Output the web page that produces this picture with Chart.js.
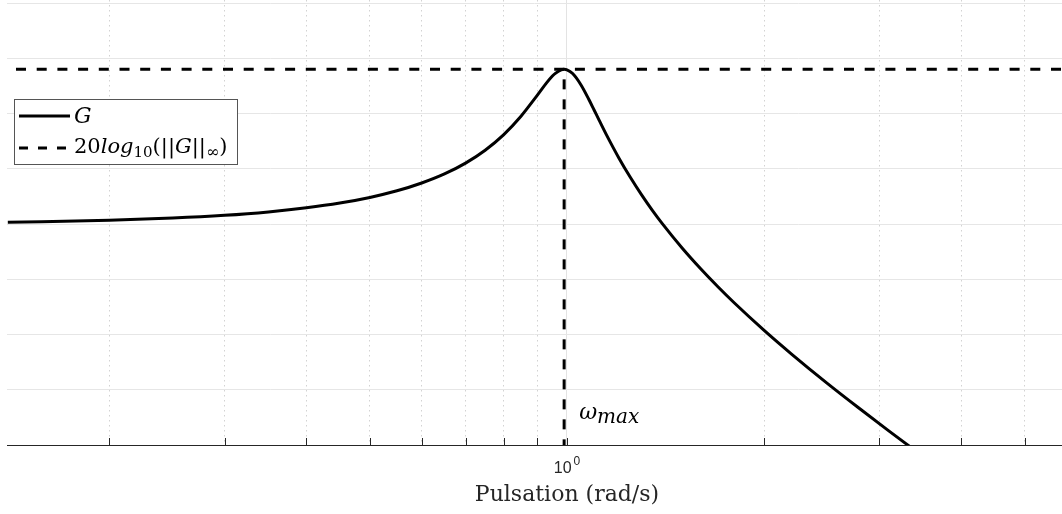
<!DOCTYPE html>
<html>
<head>
<meta charset="utf-8">
<script src="https://cdn.jsdelivr.net/npm/chart.js@4.4.0/dist/chart.umd.min.js"></script>
<style>
  html, body { margin: 0; padding: 0; background: #fff; }
  #wrap { width: 1062px; height: 514px; }
</style>
</head>
<body>
<div id="wrap"><canvas id="bode" width="1062" height="514"></canvas></div>
<script>
// Pulsation (rad/s) and |G| in dB
const pulsation = [0.14, 0.2, 0.25, 0.3, 0.35, 0.4, 0.45, 0.5, 0.55, 0.6, 0.65, 0.7, 0.75, 0.8, 0.85, 0.9,
  0.93, 0.95, 0.96, 0.98, 0.99, 1.0, 1.02, 1.05, 1.08, 1.1, 1.12, 1.15, 1.2, 1.25, 1.3, 1.35, 1.4, 1.5,
  1.6, 1.7, 1.8, 2.0, 2.2, 2.5, 2.8, 3.1, 3.4];
const magnitudeDb = [0.17, 0.35, 0.55, 0.8, 1.11, 1.48, 1.91, 2.42, 3.02, 3.73, 4.55, 5.53, 6.7, 8.09, 9.75, 11.64,
  12.77, 13.41, 13.66, 13.98, 14.02, 13.98, 13.64, 12.63, 11.29, 10.34, 9.4, 8.04, 6.0, 4.22, 2.65, 1.25, 0.0, -2.18,
  -4.04, -5.67, -7.12, -9.62, -11.74, -14.44, -16.72, -18.72, -20.49];

// peak of G: omega_max and 20log10(||G||inf)
const omegaMax = 0.99;
const hInfDb = 14.02;

// axis ranges and ticks
const xRange = [0.1396, 5.7];
const yRange = [-20, 20.3];
const xTicks = [0.2, 0.3, 0.4, 0.5, 0.6, 0.7, 0.8, 0.9, 1, 2, 3, 4, 5];
const xTickLabel = { value: 1, base: '10', exp: '0' };
const xTitle = 'Pulsation (rad/s)';
const yStep = 5;

const serif = '"DejaVu Serif", "Liberation Serif", serif';
const sans = '"Liberation Sans", Arial, sans-serif';

function drawMath(ctx, x, y, parts) {
  parts.forEach(([text, italic, size, dy]) => {
    ctx.font = (italic ? 'italic ' : '') + size + 'px ' + serif;
    ctx.fillText(text, x, y + dy);
    x += ctx.measureText(text).width;
  });
}

const decorations = {
  id: 'decorations',
  afterDraw(chart) {
    const { ctx, chartArea, scales: { x } } = chart;
    ctx.save();

    // tick marks pointing into the plot
    ctx.strokeStyle = '#262626';
    ctx.lineWidth = 1;
    xTicks.forEach(v => {
      const px = Math.round(x.getPixelForValue(v)) + 0.5;
      ctx.beginPath();
      ctx.moveTo(px, chartArea.bottom);
      ctx.lineTo(px, chartArea.bottom - 7);
      ctx.stroke();
    });

    // 10^0 tick label
    ctx.fillStyle = '#262626';
    ctx.textBaseline = 'alphabetic';
    ctx.font = '16px ' + sans;
    const bw = ctx.measureText(xTickLabel.base).width;
    ctx.font = '12px ' + sans;
    const ew = ctx.measureText(xTickLabel.exp).width;
    const lx = x.getPixelForValue(xTickLabel.value) - (bw + ew + 2) / 2;
    ctx.font = '16px ' + sans;
    ctx.fillText(xTickLabel.base, lx, chartArea.bottom + 28);
    ctx.font = '12px ' + sans;
    ctx.fillText(xTickLabel.exp, lx + bw + 2, chartArea.bottom + 20);

    // axis title
    ctx.textAlign = 'center';
    ctx.font = '22px ' + serif;
    ctx.fillText(xTitle, x.getPixelForValue(1), chartArea.bottom + 56);
    ctx.textAlign = 'left';

    // legend
    ctx.fillStyle = '#fff';
    ctx.fillRect(14, 99, 224, 65);
    ctx.strokeStyle = '#555';
    ctx.strokeRect(14.5, 99.5, 223, 65);
    ctx.strokeStyle = '#000';
    ctx.lineWidth = 3;
    ctx.beginPath();
    ctx.moveTo(19, 116);
    ctx.lineTo(70, 116);
    ctx.stroke();
    ctx.setLineDash([9, 10]);
    ctx.beginPath();
    ctx.moveTo(19, 148);
    ctx.lineTo(70, 148);
    ctx.stroke();
    ctx.setLineDash([]);

    ctx.fillStyle = '#000';
    drawMath(ctx, 74, 123, [['G', true, 22, 0]]);
    drawMath(ctx, 74, 153, [
      ['20', false, 21, 0], ['log', true, 21, 0], ['10', false, 15, 4],
      ['(||', false, 21, 0], ['G', true, 21, 0], ['||', false, 21, 0],
      ['\u221E', false, 16, 4], [')', false, 21, 0]
    ]);

    // omega_max annotation
    const ox = x.getPixelForValue(omegaMax) + 15;
    drawMath(ctx, ox, 419, [['\u03C9', true, 22, 0], ['max', true, 20, 4]]);

    ctx.restore();
  }
};

new Chart(document.getElementById('bode'), {
  type: 'line',
  data: {
    datasets: [
      {
        label: 'G',
        data: pulsation.map((w, i) => ({ x: w, y: magnitudeDb[i] })),
        borderColor: '#000',
        borderWidth: 3,
        pointRadius: 0,
        cubicInterpolationMode: 'monotone'
      },
      {
        label: '20log10(||G||inf)',
        data: [{ x: xRange[0], y: hInfDb }, { x: xRange[1], y: hInfDb }],
        borderColor: '#000',
        borderWidth: 3,
        borderDash: [10, 10.7],
        borderDashOffset: -9,
        pointRadius: 0
      },
      {
        label: 'omega max',
        data: [{ x: omegaMax, y: hInfDb }, { x: omegaMax, y: yRange[0] }],
        borderColor: '#000',
        borderWidth: 3,
        borderDash: [10, 10],
        borderDashOffset: -10,
        pointRadius: 0
      }
    ]
  },
  options: {
    responsive: false,
    animation: false,
    layout: { padding: { left: 7, right: 0, top: 0, bottom: 69 } },
    plugins: {
      legend: { display: false },
      tooltip: { enabled: false }
    },
    scales: {
      x: {
        type: 'logarithmic',
        min: xRange[0],
        max: xRange[1],
        afterBuildTicks: scale => { scale.ticks = xTicks.map(v => ({ value: v })); },
        ticks: { display: false, autoSkip: false },
        grid: {
          drawTicks: false,
          color: ctx => (ctx.tick && ctx.tick.value === 1) ? '#e3e3e3' : '#d2d2d2',
          lineWidth: 1
        },
        border: {
          display: true,
          color: '#262626',
          width: 1,
          dash: ctx => (ctx.tick && ctx.tick.value !== 1) ? [1.5, 3.5] : []
        }
      },
      y: {
        min: yRange[0],
        max: yRange[1],
        ticks: { display: false, stepSize: yStep, includeBounds: false },
        grid: { drawTicks: false, color: '#e6e6e6', lineWidth: 1 },
        border: { display: false }
      }
    }
  },
  plugins: [decorations]
});
</script>
</body>
</html>
